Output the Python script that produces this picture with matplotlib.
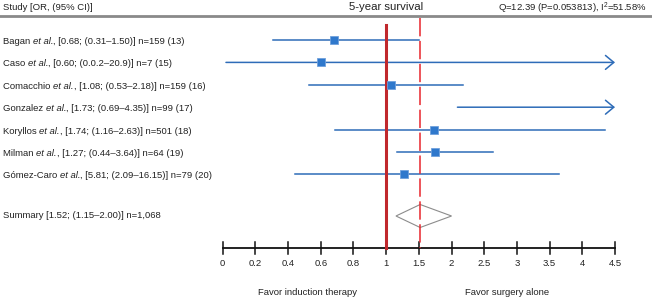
import numpy as np
import matplotlib
matplotlib.use("Agg")
import matplotlib.pyplot as plt
import matplotlib.transforms as mtransforms

plt.rcParams['font.family'] = ['Liberation Sans', 'DejaVu Sans']
plt.rcParams['mathtext.fontset'] = 'custom'
plt.rcParams['mathtext.rm'] = 'Liberation Sans'
plt.rcParams['mathtext.it'] = 'Liberation Sans:italic'

# ---- data ----
study_names = ["Bagan", "Caso", "Comacchio", "Gonzalez", "Koryllos", "Milman", "Gómez-Caro"]
label_or = ["0.68", "0.60", "1.08", "1.73", "1.74", "1.27", "5.81"]
label_ci = ["0.31–1.50", "0.0.2–20.9", "0.53–2.18", "0.69–4.35", "1.16–2.63", "0.44–3.64", "2.09–16.15"]
label_n = [159, 7, 159, 99, 501, 64, 79]
label_ref = [13, 15, 16, 17, 18, 19, 20]
# values as drawn in the picture
drawn_or = [0.68, 0.60, 1.08, 5.81, 1.73, 1.74, 1.27]
drawn_lo = [0.31, 0.02, 0.53, 2.09, 0.69, 1.16, 0.44]
drawn_hi = [1.50, 20.9, 2.18, 16.15, 4.35, 2.63, 3.64]
summary_or = 1.52
summary_lo = 1.15
summary_hi = 2.00
summary_label = "Summary [1.52; (1.15–2.00)] n=1,068"
tick_values = [0, 0.2, 0.4, 0.6, 0.8, 1, 1.5, 2, 2.5, 3, 3.5, 4, 4.5]
tick_labels = ["0", "0.2", "0.4", "0.6", "0.8", "1", "1.5", "2", "2.5", "3", "3.5", "4", "4.5"]
axis_max = 4.5


def fwd(x):
    x = np.asarray(x, dtype=float)
    return np.where(x <= 1, x / 0.2, 5 + (x - 1) / 0.5)


def inv(p):
    p = np.asarray(p, dtype=float)
    return np.where(p <= 5, p * 0.2, 1 + (p - 5) * 0.5)


W, H = 652, 300
fig = plt.figure(figsize=(W / 100, H / 100), dpi=100)
ax = fig.add_axes([0, 0, 1, 1])
ax.set_xscale('function', functions=(fwd, inv))
unit = (615 - 222.7) / 12.0
p_left = -222.7 / unit
p_right = (W - 222.7) / unit
ax.set_xlim(float(inv(p_left)), float(inv(p_right)))
ax.set_ylim(H, 0)
ax.axis('off')

blend = mtransforms.blended_transform_factory(fig.transFigure, ax.transData)

blue = '#2e6cb8'
sq_col = '#2f78cc'
txt = '#222222'
fs = 6.8

# header
ax.text(3 / W, 7, "Study [OR, (95% CI)]", transform=blend,
        fontsize=fs, va='center', ha='left', color=txt)
ax.text(1.0, 7, "5-year survival", fontsize=8.2, va='center', ha='center', color=txt)
ax.text(647 / W, 11, "Q=12.39 (P=0.053813), I$^{2}$=51.58%", transform=blend,
        fontsize=fs, va='baseline', ha='right', color=txt)
ax.plot([0, 1], [15.5, 15.5], transform=blend, color='#8a8a8a', lw=2.0, clip_on=False)

axis_y = 248
# reference lines
ax.plot([1, 1], [25, axis_y], color='#c0282d', lw=2.2, zorder=4)
ax.plot([summary_or, summary_or], [17.5, axis_y], color='#e8262c', lw=1.1,
        linestyle=(0, (12, 3)), zorder=4)

# study rows
for i, name in enumerate(study_names):
    y = 40 + 22.4 * i
    t1 = ax.text(3 / W, y + 1.5, name + " ", transform=blend, fontsize=fs,
                 va='center', ha='left', color=txt)
    t2 = ax.annotate("et al.", xy=(1, 0), xycoords=t1, fontsize=fs,
                     va='bottom', ha='left', color=txt, style='italic')
    rest = f", [{label_or[i]}; ({label_ci[i]})] n={label_n[i]} ({label_ref[i]})"
    ax.annotate(rest, xy=(1, 0), xycoords=t2, fontsize=fs,
                va='bottom', ha='left', color=txt)
    lo = drawn_lo[i]
    hi = drawn_hi[i]
    if hi > axis_max:
        ax.annotate('', xy=(axis_max, y), xytext=(lo, y),
                    arrowprops=dict(arrowstyle='->,head_length=0.6,head_width=0.5',
                                    color=blue, lw=1.1, shrinkA=0, shrinkB=0,
                                    mutation_scale=10), zorder=3)
    else:
        ax.plot([lo, hi], [y, y], color=blue, lw=1.1, zorder=3)
    if drawn_or[i] <= axis_max:
        ax.plot([drawn_or[i]], [y], marker='s', ms=6.3, color=sq_col,
                mec='#6fa0dc', mew=0.6, zorder=5)

# summary
sy = 216
ax.text(3 / W, sy - 1, summary_label, transform=blend, fontsize=fs,
        va='center', ha='left', color=txt)
ax.fill([summary_lo, summary_or, summary_hi, summary_or],
        [sy, sy - 11.5, sy, sy + 11.5], facecolor='none', edgecolor='#8c8c8c',
        lw=0.8, zorder=3)

# x axis
ax.plot([tick_values[0], tick_values[-1]], [axis_y, axis_y], color='#111', lw=1.3,
        zorder=2)
for v, lab in zip(tick_values, tick_labels):
    ax.plot([v, v], [axis_y - 6, axis_y + 6], color='#111', lw=1.1, zorder=2)
    ax.text(v, 263, lab, fontsize=fs, ha='center', va='center', color=txt)

ax.text(0.52, 292.5, "Favor induction therapy", fontsize=fs, ha='center',
        va='center', color=txt)
ax.text(2.85, 292.5, "Favor surgery alone", fontsize=fs, ha='center',
        va='center', color=txt)

fig.savefig('out.png', dpi=100)
